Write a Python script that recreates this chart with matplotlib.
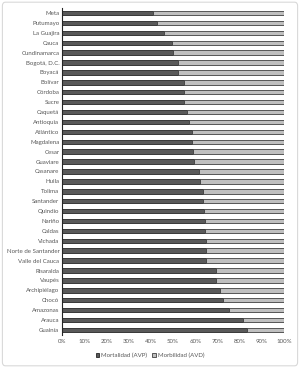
import matplotlib
matplotlib.use("Agg")
import matplotlib.pyplot as plt
from matplotlib.patches import FancyBboxPatch
import numpy as np

plt.rcParams['font.family'] = ['Lato', 'DejaVu Sans']

categories = ["Meta", "Putumayo", "La Guajira", "Cauca", "Cundinamarca", "Bogotá, D.C.",
              "Boyacá", "Bolívar", "Córdoba", "Sucre", "Caquetá", "Antioquia", "Atlántico",
              "Magdalena", "Cesar", "Guaviare", "Casanare", "Huila", "Tolima", "Santander",
              "Quindío", "Nariño", "Caldas", "Vichada", "Norte de Santander", "Valle del Cauca",
              "Risaralda", "Vaupés", "Archipiélago", "Chocó", "Amazonas", "Arauca", "Guainía"]
mortalidad = [40.8, 42.8, 46.1, 49.4, 50.0, 52.1, 52.3, 54.7, 54.7, 55.1, 56.3, 57.2, 58.7,
              58.7, 59.0, 59.5, 61.7, 62.0, 63.4, 63.5, 63.8, 64.3, 64.3, 64.7, 64.7, 64.9,
              69.1, 69.1, 71.0, 72.4, 75.2, 81.4, 83.2]
morbilidad = [100 - v for v in mortalidad]
xticks = [0, 10, 20, 30, 40, 50, 60, 70, 80, 90, 100]
series_labels = ["Mortalidad (AVP)", "Morbilidad (AVD)"]

fig = plt.figure(figsize=(3.0, 3.68), dpi=100)
fig.patch.set_facecolor("white")
border = FancyBboxPatch((0.008, 0.006), 0.984, 0.988, boxstyle="round,pad=0,rounding_size=0.01",
                        transform=fig.transFigure, facecolor="none", edgecolor="#d9d9d9",
                        linewidth=0.8, zorder=0)
fig.patches.append(border)

ax = fig.add_axes([0.207, 0.09, 0.740, 0.888])
ax.set_facecolor("none")
y = np.arange(len(categories))
h = 0.45
ax.barh(y, mortalidad, height=h, color="#595959", edgecolor="#262626", linewidth=0.6,
        label=series_labels[0])
ax.barh(y, morbilidad, left=mortalidad, height=h, color="#bfbfbf", edgecolor="#404040",
        linewidth=0.6, label=series_labels[1])
ax.set_ylim(len(categories) - 0.5, -0.5)
ax.set_xlim(0, 100)
ax.set_yticks(y)
fs = 4.4
ax.set_yticklabels(categories, fontsize=fs, color="#595959")
ax.set_xticks(xticks)
ax.set_xticklabels([f"{t}%" for t in xticks], fontsize=fs, color="#595959")
ax.tick_params(axis="y", length=0, pad=2)
ax.tick_params(axis="x", length=0, pad=3)
for s in ["top", "right", "bottom"]:
    ax.spines[s].set_visible(False)
ax.spines["left"].set_color("#262626")
ax.spines["left"].set_linewidth(0.8)

leg = fig.legend(loc="center", bbox_to_anchor=(0.5, 0.033), ncol=2, frameon=False,
                 fontsize=fs, handlelength=0.6, handleheight=0.6, handletextpad=0.3,
                 columnspacing=0.8)
for t in leg.get_texts():
    t.set_color("#595959")

fig.savefig("out.png", dpi=100, facecolor="white")
